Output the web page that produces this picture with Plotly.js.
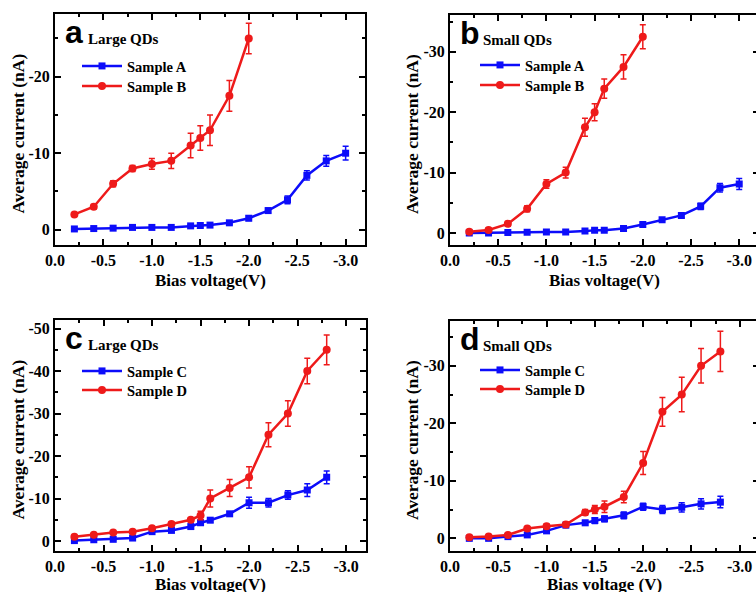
<!DOCTYPE html>
<html>
<head>
<meta charset="utf-8">
<script src="https://cdn.plot.ly/plotly-3.0.1.min.js"></script>
<style>
html,body{margin:0;padding:0;overflow:hidden;background:#fff;width:756px;height:592px;}
#chart{width:760px;height:592px;}
</style>
</head>
<body>
<div id="chart"></div>
<script>
// ---------- data ----------
const voltAB_A = [-0.2,-0.4,-0.6,-0.8,-1.0,-1.2,-1.4,-1.5,-1.6,-1.8,-2.0,-2.2,-2.4,-2.6,-2.8,-3.0];
const voltAB_B = [-0.2,-0.4,-0.6,-0.8,-1.0,-1.2,-1.4,-1.5,-1.6,-1.8,-2.0];
const voltCD = [-0.2,-0.4,-0.6,-0.8,-1.0,-1.2,-1.4,-1.5,-1.6,-1.8,-2.0,-2.2,-2.4,-2.6,-2.8];

// panel a: Large QDs
const aSampleA    = [-0.1,-0.15,-0.2,-0.3,-0.3,-0.3,-0.5,-0.55,-0.6,-0.9,-1.5,-2.5,-3.9,-7.1,-9.0,-10.0];
const aSampleAErr = [0.1,0.1,0.1,0.1,0.1,0.1,0.15,0.15,0.15,0.2,0.3,0.3,0.5,0.6,0.7,0.9];
const aSampleB    = [-2.0,-3.0,-6.0,-8.0,-8.6,-9.0,-11.0,-12.0,-13.0,-17.5,-25.0];
const aSampleBErr = [0.2,0.3,0.4,0.4,0.7,1.0,1.6,1.6,2.0,2.0,2.0];

// panel b: Small QDs
const bSampleA    = [0.0,0.0,-0.05,-0.1,-0.15,-0.15,-0.3,-0.45,-0.45,-0.75,-1.4,-2.2,-2.9,-4.4,-7.5,-8.1];
const bSampleAErr = [0.1,0.1,0.1,0.1,0.1,0.1,0.15,0.15,0.15,0.2,0.3,0.3,0.4,0.5,0.7,0.9];
const bSampleB    = [-0.2,-0.5,-1.5,-4.0,-8.1,-10.0,-17.5,-20.0,-23.9,-27.5,-32.5];
const bSampleBErr = [0.2,0.3,0.4,0.5,0.7,0.9,1.5,1.4,1.6,2.0,2.0];

// panel c: Large QDs
const cSampleC    = [-0.1,-0.3,-0.4,-0.7,-2.2,-2.5,-3.4,-4.3,-4.9,-6.4,-9.0,-9.0,-10.8,-12.0,-15.0];
const cSampleCErr = [0.2,0.3,0.3,0.4,0.4,0.4,0.5,0.6,0.5,0.5,1.3,1.0,1.0,1.5,1.5];
const cSampleD    = [-1.0,-1.5,-2.0,-2.2,-3.0,-4.0,-5.0,-6.0,-10.0,-12.5,-15.0,-25.0,-30.0,-40.0,-45.0];
const cSampleDErr = [0.3,0.3,0.3,0.3,0.4,0.5,0.5,1.0,2.0,2.0,2.5,2.8,3.0,3.0,3.5];

// panel d: Small QDs
const dSampleC    = [0.0,0.0,-0.3,-0.6,-1.3,-2.3,-2.7,-3.1,-3.4,-4.0,-5.5,-5.0,-5.4,-6.0,-6.3];
const dSampleCErr = [0.2,0.2,0.3,0.3,0.4,0.4,0.4,0.5,0.5,0.6,0.6,0.7,0.8,0.9,1.0];
const dSampleD    = [-0.2,-0.3,-0.6,-1.7,-2.1,-2.4,-4.5,-5.0,-5.5,-7.2,-13.1,-22.0,-25.0,-30.0,-32.5];
const dSampleDErr = [0.2,0.2,0.3,0.3,0.4,0.4,0.5,0.7,1.0,1.0,2.0,2.5,3.0,3.0,3.5];

// tick labels
const xTickVals = [0,-0.5,-1.0,-1.5,-2.0,-2.5,-3.0];
const xTickText = ['0.0','-0.5','-1.0','-1.5','-2.0','-2.5','-3.0'];
const yTickVals20 = [0,-10,-20];
const yTickText20 = ['0','-10','-20'];
const yTickVals30 = [0,-10,-20,-30];
const yTickText30 = ['0','-10','-20','-30'];
const yTickVals50 = [0,-10,-20,-30,-40,-50];
const yTickText50 = ['0','-10','-20','-30','-40','-50'];

const panelLetters = ['a','b','c','d'];
const panelSubtitles = ['Large QDs','Small QDs','Large QDs','Small QDs'];
const xTitles = ['Bias voltage(V)','Bias voltage(V)','Bias voltage(V)','Bias voltage (V)'];
const yTitle = 'Average current (nA)';

// ---------- styling / layout ----------
const W = 760, H = 592;
const px = v => v / W;
const py = v => 1 - v / H;
const BLUE = '#0c0cfa', RED = '#ee1a1a';
const SERIF = 'Liberation Serif, Times New Roman, serif';
const SANS = 'Liberation Sans, Arial, sans-serif';

// plot-area boxes in pixels [left, right, top, bottom]
const boxes = [
  [55, 365, 14, 245],
  [450, 758.5, 15, 245],
  [55, 365.5, 320, 551],
  [450, 759, 321, 551]
];
const yRanges = [[2, -28.2], [2, -36.1], [2.35, -52], [2.2, -37.8]];
const yTicks = [[yTickVals20, yTickText20],[yTickVals30, yTickText30],[yTickVals50, yTickText50],[yTickVals30, yTickText30]];
// legend rows: [line start x, row centre y] per legend
const legendRows = [[82, 66], [82, 86], [480, 65], [480, 85], [82, 371], [82, 390], [480, 370], [480, 389]];

function serie(x, y, err, name, color, symbol, panel, k) {
  const sfx = panel === 0 ? '' : String(panel + 1);
  const lg = 2 * panel + k;
  return {
    type: 'scatter', mode: 'lines+markers', x: x, y: y, name: name,
    xaxis: 'x' + sfx, yaxis: 'y' + sfx, legend: lg === 0 ? 'legend' : 'legend' + (lg + 1),
    line: {color: color, width: 2.5},
    marker: {color: color, symbol: symbol, size: symbol === 'square' ? 7 : 8},
    error_y: {type: 'data', array: err, visible: true, color: color, thickness: 1.5, width: 3}
  };
}

const traces = [
  serie(voltAB_A, aSampleA, aSampleAErr, 'Sample A', BLUE, 'square', 0, 0),
  serie(voltAB_B, aSampleB, aSampleBErr, 'Sample B', RED, 'circle', 0, 1),
  serie(voltAB_A, bSampleA, bSampleAErr, 'Sample A', BLUE, 'square', 1, 0),
  serie(voltAB_B, bSampleB, bSampleBErr, 'Sample B', RED, 'circle', 1, 1),
  serie(voltCD, cSampleC, cSampleCErr, 'Sample C', BLUE, 'square', 2, 0),
  serie(voltCD, cSampleD, cSampleDErr, 'Sample D', RED, 'circle', 2, 1),
  serie(voltCD, dSampleC, dSampleCErr, 'Sample C', BLUE, 'square', 3, 0),
  serie(voltCD, dSampleD, dSampleDErr, 'Sample D', RED, 'circle', 3, 1)
];

const layout = {
  width: W, height: H,
  margin: {l: 0, r: 0, t: 0, b: 0},
  paper_bgcolor: '#fff', plot_bgcolor: '#fff',
  showlegend: true,
  annotations: [],
  font: {family: SERIF, color: '#000'}
};

const tickFont = {family: SERIF, size: 16, weight: 'bold', color: '#000'};

legendRows.forEach((r, j) => {
  layout[j === 0 ? 'legend' : 'legend' + (j + 1)] = {
    x: px(r[0] - 5), y: py(r[1]), xanchor: 'left', yanchor: 'middle',
    bgcolor: 'rgba(0,0,0,0)', borderwidth: 0,
    font: {family: SERIF, size: 14.5, weight: 'bold', color: '#000'},
    itemwidth: 40
  };
});

boxes.forEach((b, i) => {
  const sfx = i === 0 ? '' : String(i + 1);
  layout['xaxis' + sfx] = {
    domain: [px(b[0]), px(b[1])], anchor: 'y' + sfx,
    range: [0, -3.2], tickmode: 'array', tickvals: xTickVals, ticktext: xTickText,
    ticks: 'inside', ticklen: 6, tickwidth: 2, tickcolor: '#000',
    minor: {tickmode: 'linear', tick0: 0, dtick: 0.25, ticks: 'inside', ticklen: 3, tickwidth: 2, tickcolor: '#000'},
    showline: true, linewidth: 2, linecolor: '#000', mirror: 'allticks',
    showgrid: false, zeroline: false, tickfont: tickFont, fixedrange: true
  };
  layout['yaxis' + sfx] = {
    domain: [py(b[3]), py(b[2])], anchor: 'x' + sfx,
    range: yRanges[i], tickmode: 'array', tickvals: yTicks[i][0], ticktext: yTicks[i][1],
    ticks: 'inside', ticklen: 6, tickwidth: 2, tickcolor: '#000',
    minor: {tickmode: 'linear', tick0: 0, dtick: 5, ticks: 'inside', ticklen: 3, tickwidth: 2, tickcolor: '#000'},
    showline: true, linewidth: 2, linecolor: '#000', mirror: 'allticks',
    showgrid: false, zeroline: false, tickfont: tickFont, fixedrange: true
  };
  // panel letter
  layout.annotations.push({
    xref: 'paper', yref: 'paper', x: px(b[0] + 8), y: py(b[2] + 18),
    xanchor: 'left', yanchor: 'middle', showarrow: false, text: panelLetters[i],
    font: {family: SANS, size: 32, weight: 'bold', color: '#000'}
  });
  layout.annotations.push({
    xref: 'paper', yref: 'paper', x: px(b[0] + 31), y: py(b[2] + 25),
    xanchor: 'left', yanchor: 'middle', showarrow: false, text: panelSubtitles[i],
    font: {family: SERIF, size: 15, weight: 'bold', color: '#000'}
  });
  // x title
  layout.annotations.push({
    xref: 'paper', yref: 'paper', x: px((b[0] + b[1]) / 2), y: py(Math.min(b[3] + 35, 584)),
    xanchor: 'center', yanchor: 'middle', showarrow: false, text: xTitles[i],
    font: {family: SERIF, size: 17, weight: 'bold', color: '#000'}
  });
  // y title
  layout.annotations.push({
    xref: 'paper', yref: 'paper', x: px(b[0] - 38), y: py((b[2] + b[3]) / 2 + 4),
    xanchor: 'center', yanchor: 'middle', showarrow: false, textangle: -90, text: yTitle,
    font: {family: SERIF, size: 17.5, weight: 'bold', color: '#000'}
  });
});

Plotly.newPlot('chart', traces, layout, {staticPlot: true});
</script>
</body>
</html>
